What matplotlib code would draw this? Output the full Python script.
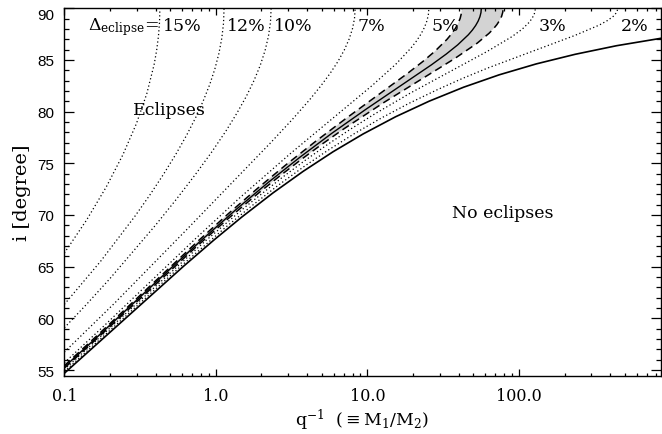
import numpy as np
import matplotlib
matplotlib.use('Agg')
import matplotlib.pyplot as plt
from matplotlib.ticker import FixedLocator, NullFormatter, LogLocator

# Grazing-eclipse limit (solid lower curve): q^-1 and inclination i [deg]
lim_x = [0.1, 0.6144, 0.9754, 1.489, 2.385, 3.775, 5.939, 9.372, 15.38, 25.55, 43.09, 74, 130.2, 235.3, 441.1, 860]
lim_i = [54.68, 65.06, 67.60, 69.82, 72.14, 74.23, 76.12, 77.84, 79.51, 81.01, 82.36, 83.56, 84.62, 85.55, 86.38, 87.09]

# Constant eclipse-duration curves (dotted)
d15_x = [0.1, 0.1404, 0.1893, 0.2438, 0.2995, 0.3503, 0.3914, 0.4067, 0.4181, 0.425, 0.4273]
d15_i = [66.31, 69.52, 72.72, 75.84, 78.86, 81.74, 84.55, 85.92, 87.29, 88.65, 90.00]
d12_x = [0.1, 0.1736, 0.2908, 0.3663, 0.4515, 0.5441, 0.641, 0.7351, 0.8264, 0.9112, 0.9863, 1.048, 1.095, 1.124, 1.133]
d12_i = [61.35, 65.52, 69.83, 71.92, 73.94, 75.87, 77.71, 79.41, 81.05, 82.62, 84.15, 85.64, 87.11, 88.56, 90.00]
d10_x = [0.1, 0.1405, 0.1993, 0.4013, 0.5514, 0.7338, 0.9401, 1.164, 1.377, 1.588, 1.786, 1.964, 2.113, 2.224, 2.294, 2.317]
d10_i = [59.08, 61.37, 63.82, 69.04, 71.56, 73.93, 76.10, 78.11, 79.85, 81.47, 83.01, 84.48, 85.91, 87.29, 88.65, 90.00]
d07_x = [0.1, 0.213, 0.6377, 2.299, 3.199, 4.13, 4.918, 5.683, 6.399, 7.041, 7.578, 7.977, 8.225, 8.31]
d07_i = [56.73, 61.42, 68.54, 76.99, 79.25, 81.10, 82.47, 83.71, 84.86, 85.96, 87.02, 88.03, 89.01, 90.00]
d05_x = [0.1, 0.1825, 0.7392, 1.442, 3.131, 10.74, 15.43, 19.38, 21.1, 22.59, 23.81, 24.72, 25.27, 25.46]
d05_i = [55.70, 59.26, 67.75, 71.68, 75.99, 82.52, 84.60, 86.15, 86.84, 87.51, 88.15, 88.78, 89.39, 90.00]
d03_x = [0.1, 0.8493, 1.555, 2.741, 3.853, 5.421, 7.654, 10.87, 19.06, 61.65, 89.59, 105.3, 117.8, 126, 128.7]
d03_i = [55.04, 67.46, 70.75, 73.63, 75.25, 76.79, 78.26, 79.67, 81.77, 85.82, 87.24, 87.99, 88.69, 89.36, 90.00]
d02_x = [0.1, 0.5627, 1.16, 1.739, 2.562, 3.752, 5.479, 8.223, 12.39, 18.86, 29.1, 42.06, 62.27, 233.7, 338.3, 384.6, 420.1, 442.3, 450.2]
d02_i = [54.84, 64.80, 68.81, 70.92, 72.84, 74.61, 76.25, 77.88, 79.39, 80.81, 82.14, 83.19, 84.22, 87.37, 88.37, 88.82, 89.23, 89.61, 90.00]
dotted_labels = ['15%', '12%', '10%', '7%', '5%', '3%', '2%']

# Measured eclipse: central curve (solid) and its range (dashed, shaded)
mid_x = [0.1, 0.1651, 0.4876, 0.7964, 1.352, 2.221, 3.589, 5.833, 9.74, 26.47, 33.14, 39.44, 46.39, 49.3, 51.81, 53.83, 55.3, 56.2, 56.5]
mid_i = [55.29, 58.20, 64.64, 67.51, 70.50, 73.16, 75.59, 77.91, 80.21, 84.53, 85.57, 86.46, 87.44, 87.89, 88.33, 88.76, 89.18, 89.59, 90.00]
dlo_x = [0.1, 0.1712, 0.7619, 1.221, 1.897, 2.91, 4.486, 7.176, 18.64, 23.41, 27.94, 33.55, 35.95, 38.06, 39.73, 40.99, 41.75, 42]
dlo_i = [55.42, 58.56, 67.47, 70.18, 72.61, 74.87, 77.05, 79.31, 83.76, 84.89, 85.85, 87.00, 87.53, 88.05, 88.55, 89.04, 89.53, 90.00]
dhi_x = [0.1, 0.1634, 0.7349, 1.208, 1.92, 2.656, 3.658, 5.037, 6.988, 12.96, 37.9, 53.1, 63.41, 67.78, 71.57, 74.63, 76.87, 78.25, 78.7]
dhi_i = [55.18, 58.01, 66.86, 69.66, 72.14, 73.80, 75.37, 76.87, 78.33, 80.92, 85.16, 86.63, 87.57, 88.00, 88.42, 88.83, 89.22, 89.62, 90.00]

x_ticks = [0.1, 1, 10, 100]
x_ticklabels = ['0.1', '1.0', '10.0', '100.0']
y_ticks = [55, 60, 65, 70, 75, 80, 85, 90]
y_ticklabels = ['55', '60', '65', '70', '75', '80', '85', '90']

dotted = list(zip([d15_x, d12_x, d10_x, d07_x, d05_x, d03_x, d02_x],
                  [d15_i, d12_i, d10_i, d07_i, d05_i, d03_i, d02_i],
                  dotted_labels))

plt.rcParams['mathtext.fontset'] = 'dejavuserif'
SERIF = 'DejaVu Serif'
SANS = 'Liberation Sans'

fig = plt.figure(figsize=(6.62, 4.35), dpi=100)
ax = fig.add_axes([64.3/662, 1-376.7/435, (660.5-64.3)/662, (376.7-9.3)/435])
ax.set_xscale('log')

ax.fill(dlo_x + dhi_x[::-1], dlo_i + dhi_i[::-1], color='#d3d3d3', lw=0, zorder=1)
for x, i, lab in dotted:
    ax.plot(x, i, color='black', lw=0.9, ls=(0, (1, 2)), zorder=2)
ax.plot(dlo_x, dlo_i, color='black', lw=1.1, ls=(0, (5, 3)), zorder=3)
ax.plot(dhi_x, dhi_i, color='black', lw=1.1, ls=(0, (5, 3)), zorder=3)
ax.plot(mid_x, mid_i, color='black', lw=1.0, zorder=4)
ax.plot(lim_x, lim_i, color='black', lw=1.2, zorder=4)

ax.set_xlim(0.1, 860)
ax.set_ylim(54.45, 90)

ax.xaxis.set_major_locator(FixedLocator(x_ticks))
ax.xaxis.set_minor_locator(LogLocator(base=10, subs=np.arange(2, 10)))
ax.xaxis.set_minor_formatter(NullFormatter())
ax.set_xticklabels(x_ticklabels, fontfamily=SERIF, fontsize=11.5)
ax.yaxis.set_major_locator(FixedLocator(y_ticks))
ax.yaxis.set_minor_locator(FixedLocator(np.arange(55, 91, 1)))
ax.set_yticklabels(y_ticklabels, fontfamily=SANS, fontsize=11)
ax.get_yticklabels()[-1].set_verticalalignment('top')

ax.tick_params(axis='x', which='major', direction='in', length=5, width=0.9, top=True, bottom=True, pad=8)
ax.tick_params(axis='x', which='minor', direction='in', length=2.5, width=0.9, top=True, bottom=True)
ax.tick_params(axis='y', which='major', direction='in', length=7.2, width=0.9, left=True, right=True, pad=7)
ax.tick_params(axis='y', which='minor', direction='in', length=3.6, width=0.9, left=True, right=True)
for s in ax.spines.values():
    s.set_linewidth(1.0)

ax.set_xlabel(r'q$^{-1}$  ($\equiv$M$_1$/M$_2$)', fontfamily=SERIF, fontsize=12.5, labelpad=2)
ax.set_ylabel('i [degree]', fontfamily=SERIF, fontsize=14, labelpad=5)

for x, i, lab in dotted:
    ax.annotate(lab, xy=(x[-1], 88.3), xytext=(2, 0), textcoords='offset points',
                ha='left', va='center', fontfamily=SERIF, fontsize=12.5)
ax.annotate(r'$\Delta_{\rm eclipse}$=', xy=(d15_x[-1], 88.3), xytext=(-1, 0), textcoords='offset points',
            ha='right', va='center', fontfamily=SERIF, fontsize=12.5)
ax.text(0.284, 79.8, 'Eclipses', fontfamily=SERIF, fontsize=12.5, ha='left', va='baseline')
ax.text(36.2, 69.83, 'No eclipses', fontfamily=SERIF, fontsize=12.5, ha='left', va='baseline')

fig.savefig('out.png', dpi=100)
